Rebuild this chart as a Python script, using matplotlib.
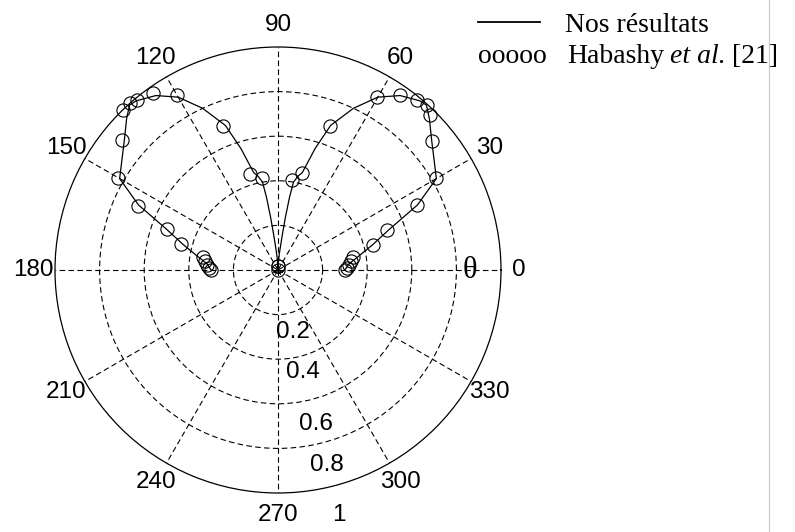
import numpy as np
import matplotlib
matplotlib.use("Agg")
import matplotlib.pyplot as plt
from matplotlib.lines import Line2D

# solid curve (our results), angle in degrees -> normalised amplitude
curve_theta = [0, 5, 10, 15, 20, 25, 30, 35, 40, 45, 48, 50, 55, 60, 65, 70, 73,
               76, 78, 80, 81, 82, 83, 85, 87, 90,
               93, 95, 97, 98, 99, 100, 102, 104, 107, 110, 115, 120, 125, 130,
               132, 135, 140, 145, 150, 155, 160, 165, 170, 175, 180]
curve_r = [0.30, 0.32, 0.37, 0.44, 0.53, 0.69, 0.82, 0.855, 0.90, 0.96, 0.995, 0.99,
           0.955, 0.895, 0.80, 0.69, 0.57, 0.45, 0.43, 0.40, 0.33, 0.24, 0.16, 0.08,
           0.04, 0.0,
           0.04, 0.08, 0.16, 0.24, 0.33, 0.40, 0.43, 0.45, 0.57, 0.69, 0.80, 0.895,
           0.955, 0.99, 0.995, 0.96, 0.90, 0.855, 0.82, 0.69, 0.53, 0.44, 0.37, 0.32, 0.30]

# Habashy et al. points
ref_theta = [0, 2, 4, 7, 10, 14.7, 20.2, 25.1, 30.2, 40.0, 45.6, 47.9, 50.7, 55.1,
             60.2, 70.1, 76.1, 81.2, 86, 90, 94, 99.9, 106.0, 110.9, 120.0, 125.2,
             129.7, 131.5, 134.1, 140.2, 150.1, 155.6, 159.7, 165.0, 170, 173, 176, 178, 180]
ref_r = [0.30, 0.31, 0.32, 0.33, 0.34, 0.44, 0.52, 0.69, 0.82, 0.90, 0.973, 0.997,
         0.985, 0.957, 0.894, 0.686, 0.448, 0.41, 0.02, 0.0, 0.02, 0.42, 0.45, 0.69,
         0.906, 0.97, 0.99, 1.0, 1.0, 0.91, 0.83, 0.69, 0.53, 0.45, 0.34, 0.33, 0.32,
         0.31, 0.30]

angle_ticks = list(range(0, 360, 30))
rings = [0.2, 0.4, 0.6, 0.8, 1]
ring_labels = ['0.2', '0.4', '0.6', '0.8', '1']

W, H = 795, 532
cx, cy, R = 278, 270, 223

fig = plt.figure(figsize=(W / 100, H / 100), dpi=100)
ax = fig.add_axes([(cx - R) / W, (H - cy - R) / H, 2 * R / W, 2 * R / H],
                  projection='polar')
ax.set_ylim(0, 1)
ax.set_thetagrids(angle_ticks, labels=[])
ax.set_rgrids(rings[:-1], labels=[])
ax.grid(True, color='k', linestyle=(0, (5, 3)), linewidth=0.8)
ax.spines['polar'].set_linewidth(0.9)
ax.tick_params(length=0)

ax.plot(np.radians(curve_theta), curve_r, color='k', lw=0.9, zorder=3)
ax.plot(np.radians(ref_theta), ref_r, 'o', mfc='none', mec='k', ms=9.5, mew=0.8,
        zorder=4, clip_on=False)

tick_font = dict(family=['Liberation Sans Narrow', 'Liberation Sans'], size=17.5,
                 ha='center', va='center')
for a in angle_ticks:
    rr = 1.08 if a == 0 else 1.097
    ax.text(np.radians(a), rr, str(a), **tick_font)

ring_pos = [0.285, 0.47, 0.71, 0.90, 1.13]
for lab, rr in zip(ring_labels, ring_pos):
    ax.text(np.radians(-76), rr, lab, **tick_font)

ax.text(0, 0.86, 'θ', ha='center', va='center', size=22, family='Liberation Serif')

# legend drawn as text lines in the corner
serif = dict(family='Liberation Serif', size=20, va='baseline')
fig.add_artist(Line2D([478 / W, 540 / W], [(H - 22) / H] * 2, color='k', lw=1.3))
fig.text(565 / W, (H - 32) / H, 'Nos résultats', **serif)
fig.text(478 / W, (H - 63) / H, 'ooooo', **serif)

# chain the three pieces of the second entry, one space apart
renderer = fig.canvas.get_renderer()
x = 567
for piece, st in [('Habashy', 'normal'), ('et al.', 'italic'), ('[21]', 'normal')]:
    t = fig.text(x / W, (H - 63) / H, piece, style=st, **serif)
    x = t.get_window_extent(renderer).x1 + 6

fig.add_artist(Line2D([769 / W] * 2, [0, 1], color='#c8c8c8', lw=0.8))

fig.savefig('out.png', dpi=100)
